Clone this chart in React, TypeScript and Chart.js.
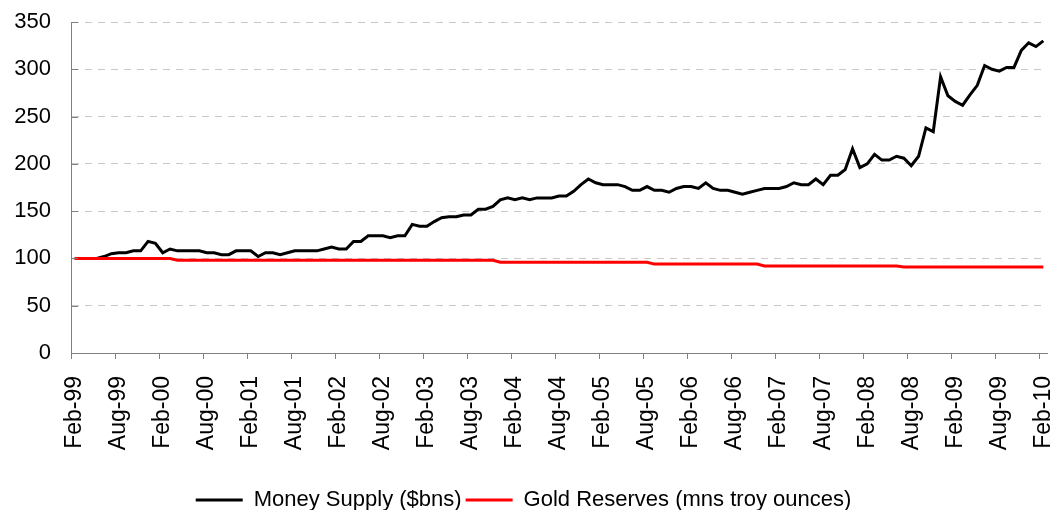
import React, { useEffect, useRef } from "react";
import { Chart, registerables } from "chart.js";

Chart.register(...registerables);

const MONTHS = ["Jan", "Feb", "Mar", "Apr", "May", "Jun", "Jul", "Aug", "Sep", "Oct", "Nov", "Dec"];
const START_YEAR = 1999;
const START_MONTH = 1; // Feb
const COUNT = 133; // Feb-99 .. Feb-10

const categories: string[] = [];
for (let i = 0; i < COUNT; i++) {
  const m = (START_MONTH + i) % 12;
  const y = START_YEAR + Math.floor((START_MONTH + i) / 12);
  categories.push(`${MONTHS[m]}-${String(y % 100).padStart(2, "0")}`);
}

const moneySupply = [
  100, 100, 100, 100, 102, 105, 106, 106, 108, 108, 118, 116,
  106, 110, 108, 108, 108, 108, 106, 106, 104, 104, 108, 108,
  108, 102, 106, 106, 104, 106, 108, 108, 108, 108, 110, 112,
  110, 110, 118, 118, 124, 124, 124, 122, 124, 124, 136, 134,
  134, 139, 143, 144, 144, 146, 146, 152, 152, 155, 162, 164,
  162, 164, 162, 164, 164, 164, 166, 166, 171, 178, 184, 180,
  178, 178, 178, 176, 172, 172, 176, 172, 172, 170, 174, 176,
  176, 174, 180, 174, 172, 172, 170, 168, 170, 172, 174, 174,
  174, 176, 180, 178, 178, 184, 178, 188, 188, 194, 216, 196,
  200, 210, 204, 204, 208, 206, 198, 208, 238, 234, 292, 272,
  266, 262, 273, 283, 304, 300, 298, 302, 302, 320, 328, 324,
  330,
];

const goldReserves = [
  100, 100, 100, 100, 100, 100, 100, 100, 100, 100, 100, 100,
  100, 100, 98, 98, 98, 98, 98, 98, 98, 98, 98, 98,
  98, 98, 98, 98, 98, 98, 98, 98, 98, 98, 98, 98,
  98, 98, 98, 98, 98, 98, 98, 98, 98, 98, 98, 98,
  98, 98, 98, 98, 98, 98, 98, 98, 98, 98, 96, 96,
  96, 96, 96, 96, 96, 96, 96, 96, 96, 96, 96, 96,
  96, 96, 96, 96, 96, 96, 96, 94, 94, 94, 94, 94,
  94, 94, 94, 94, 94, 94, 94, 94, 94, 94, 92, 92,
  92, 92, 92, 92, 92, 92, 92, 92, 92, 92, 92, 92,
  92, 92, 92, 92, 92, 91, 91, 91, 91, 91, 91, 91,
  91, 91, 91, 91, 91, 91, 91, 91, 91, 91, 91, 91,
  91,
];

const yTicks = [0, 50, 100, 150, 200, 250, 300, 350];
const LABEL_EVERY = 6;

const FONT = "'Liberation Sans', Arial, sans-serif";

const inwardTicks = {
  id: "inwardTicks",
  afterDatasetsDraw(chart: any) {
    const { ctx, chartArea, scales } = chart;
    const y = scales.y;
    ctx.save();
    ctx.strokeStyle = "#808080";
    ctx.lineWidth = 1;
    ctx.beginPath();
    for (const v of yTicks) {
      const py = Math.round(y.getPixelForValue(v)) + 0.5;
      ctx.moveTo(chartArea.left, py);
      ctx.lineTo(chartArea.left + 7, py);
    }
    ctx.stroke();
    ctx.restore();
  },
};

export default function App() {
  const ref = useRef<HTMLCanvasElement | null>(null);
  useEffect(() => {
    if (!ref.current) return;
    const chart = new Chart(ref.current, {
      type: "line",
      data: {
        labels: categories,
        datasets: [
          {
            label: "Money Supply ($bns)",
            data: moneySupply,
            borderColor: "#000000",
            backgroundColor: "#000000",
            borderWidth: 3,
            pointRadius: 0,
            tension: 0,
            order: 1,
          },
          {
            label: "Gold Reserves (mns troy ounces)",
            data: goldReserves,
            borderColor: "#ff0000",
            backgroundColor: "#ff0000",
            borderWidth: 3,
            pointRadius: 0,
            tension: 0,
            order: 0,
          },
        ],
      },
      options: {
        responsive: false,
        animation: false,
        layout: { padding: { top: 22, right: 8, left: 0, bottom: -11 } },
        plugins: {
          tooltip: { enabled: false },
          legend: {
            position: "bottom",
            labels: {
              usePointStyle: true,
              pointStyle: "line",
              pointStyleWidth: 47,
              boxHeight: 3,
              padding: 4,
              color: "#000",
              font: { family: FONT, size: 22 },
              sort: (a: any, b: any) => a.datasetIndex - b.datasetIndex,
            },
          },
        },
        scales: {
          x: {
            type: "category",
            offset: true,
            afterFit: (s: any) => {
              s.height = 132;
              s.paddingLeft = 0;
              s.paddingRight = 0;
            },
            grid: {
              offset: true,
              drawOnChartArea: false,
              tickLength: 6,
              color: (c: any) => (c.index % LABEL_EVERY === 0 ? "#808080" : "rgba(0,0,0,0)"),
            },
            border: { color: "#808080", width: 1 },
            ticks: {
              autoSkip: false,
              maxRotation: 90,
              minRotation: 90,
              padding: 17,
              color: "#000",
              font: { family: FONT, size: 23 },
              callback: (_v: any, i: number) => (i % LABEL_EVERY === 0 ? categories[i] : ""),
            },
          },
          y: {
            min: 0,
            max: 350,
            afterFit: (s: any) => {
              s.width = 71;
              s.paddingTop = 0;
              s.paddingBottom = 0;
            },
            afterBuildTicks: (s: any) => {
              s.ticks = yTicks.map((v) => ({ value: v }));
            },
            grid: {
              drawTicks: false,
              color: "#c8c8c8",
              lineWidth: 1,
            },
            border: { color: "#808080", width: 1, dash: [7, 6] },
            ticks: {
              padding: 20,
              color: "#000",
              font: { family: FONT, size: 22 },
            },
          },
        },
      },
      plugins: [inwardTicks],
    });
    return () => chart.destroy();
  }, []);
  return (
    <canvas
      ref={ref}
      width={1055}
      height={510}
      style={{ position: "fixed", left: 0, top: 0, width: 1055, height: 510 }}
    />
  );
}
